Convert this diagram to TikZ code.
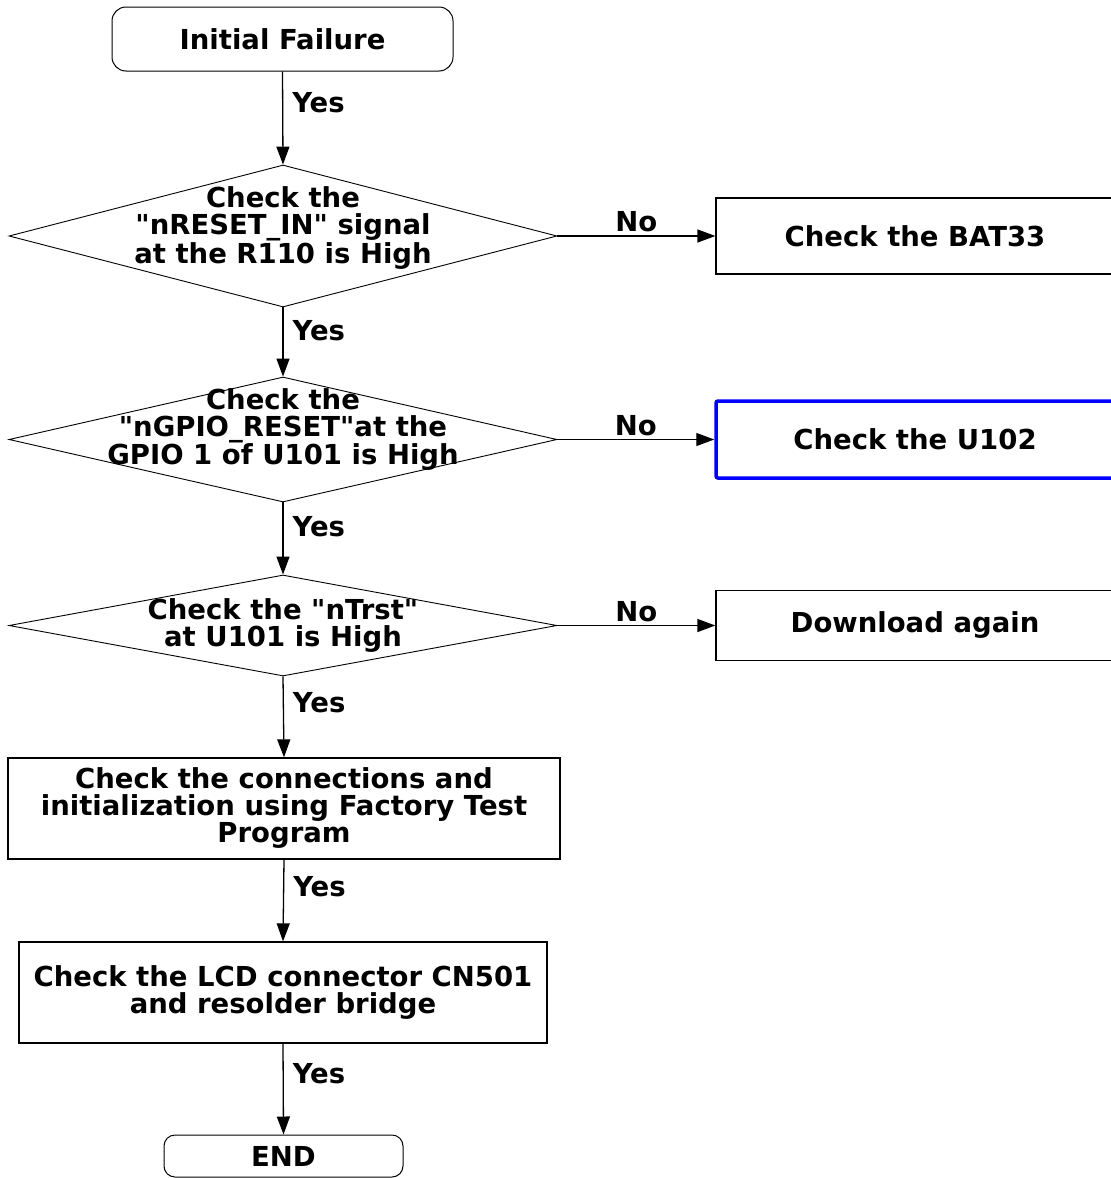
\documentclass[tikz,border=0pt]{standalone}
\usepackage{fontspec}
\setmainfont{DejaVu Sans}
\usetikzlibrary{shapes.geometric,arrows.meta}
\newcommand{\gl}{\textquotedbl}
\begin{document}
\begin{tikzpicture}[x=1pt,y=-1pt,
        font=\bfseries\fontsize{27.5}{27}\selectfont,
        >={Triangle[length=18pt,width=13pt]},
        terminal/.style={draw,line width=1pt,rounded corners=14pt,inner sep=0pt},
        decision/.style={draw,shape=diamond,line width=0.9pt,inner sep=0pt,minimum width=548pt},
        boite/.style={draw,line width=1.3pt,align=center,inner sep=0pt},
        fleche/.style={->,line width=1.3pt}]
    \useasboundingbox (0,0) rectangle (1111,1178);

    % Début et fin
    \node[terminal,minimum width=341pt,minimum height=64pt] (debut) at (282.5,39) {Initial Failure};
    \node[terminal,minimum width=239pt,minimum height=42pt,rounded corners=11pt] (fin) at (283.5,1156) {END};

    % Tests
    \node[decision,minimum height=142pt] (d1) at (283,236) {};
    \node[align=center] (t1) at ([yshift=8pt]d1.center) {Check the\\\gl nRESET\_IN\gl{} signal\\at the R110 is High};
    \node[decision,minimum height=125pt] (d2) at (283,439.5) {};
    \node[align=center] (t2) at ([yshift=10pt]d2.center) {Check the\\\gl nGPIO\_RESET\gl at the\\GPIO 1 of U101 is High};
    \node[decision,minimum height=101pt] (d3) at (283,625.5) {};
    \node[align=center] (t3) at (d3.center) {Check the \gl nTrst\gl\\at U101 is High};

    % Actions
    \node[boite,minimum width=398pt,minimum height=76pt] (bat) at (915,236) {Check the BAT33};
    \node[boite,draw=blue,line width=3.5pt,rounded corners=2pt,minimum width=398pt,minimum height=77pt] (u102) at (915,439.5) {Check the U102};
    \node[boite,minimum width=398pt,minimum height=70pt] (dl) at (915,625.5) {Download again};
    \node[boite,minimum width=552pt,minimum height=101pt] (b4) at (284,808.5) {Check the connections and\\initialization using Factory Test\\Program};
    \node[boite,minimum width=528pt,minimum height=101pt] (b5) at (283,992.5) {Check the LCD connector CN501\\and resolder bridge};

    % Branches Yes
    \foreach \a/\b in {debut/d1,d1/d2,d2/d3,d3/b4,b4/b5,b5/fin} {
        \draw[fleche] (\a.south) -- (\b.north) node[pos=0.33,right,inner sep=9pt] {Yes};
    }

    % Branches No
    \foreach \a/\b in {d1/bat,d2/u102,d3/dl} {
        \draw[fleche] (\a.east) -- (\b.west) node[midway,above,inner sep=3pt] {No};
    }
\end{tikzpicture}
\end{document}
